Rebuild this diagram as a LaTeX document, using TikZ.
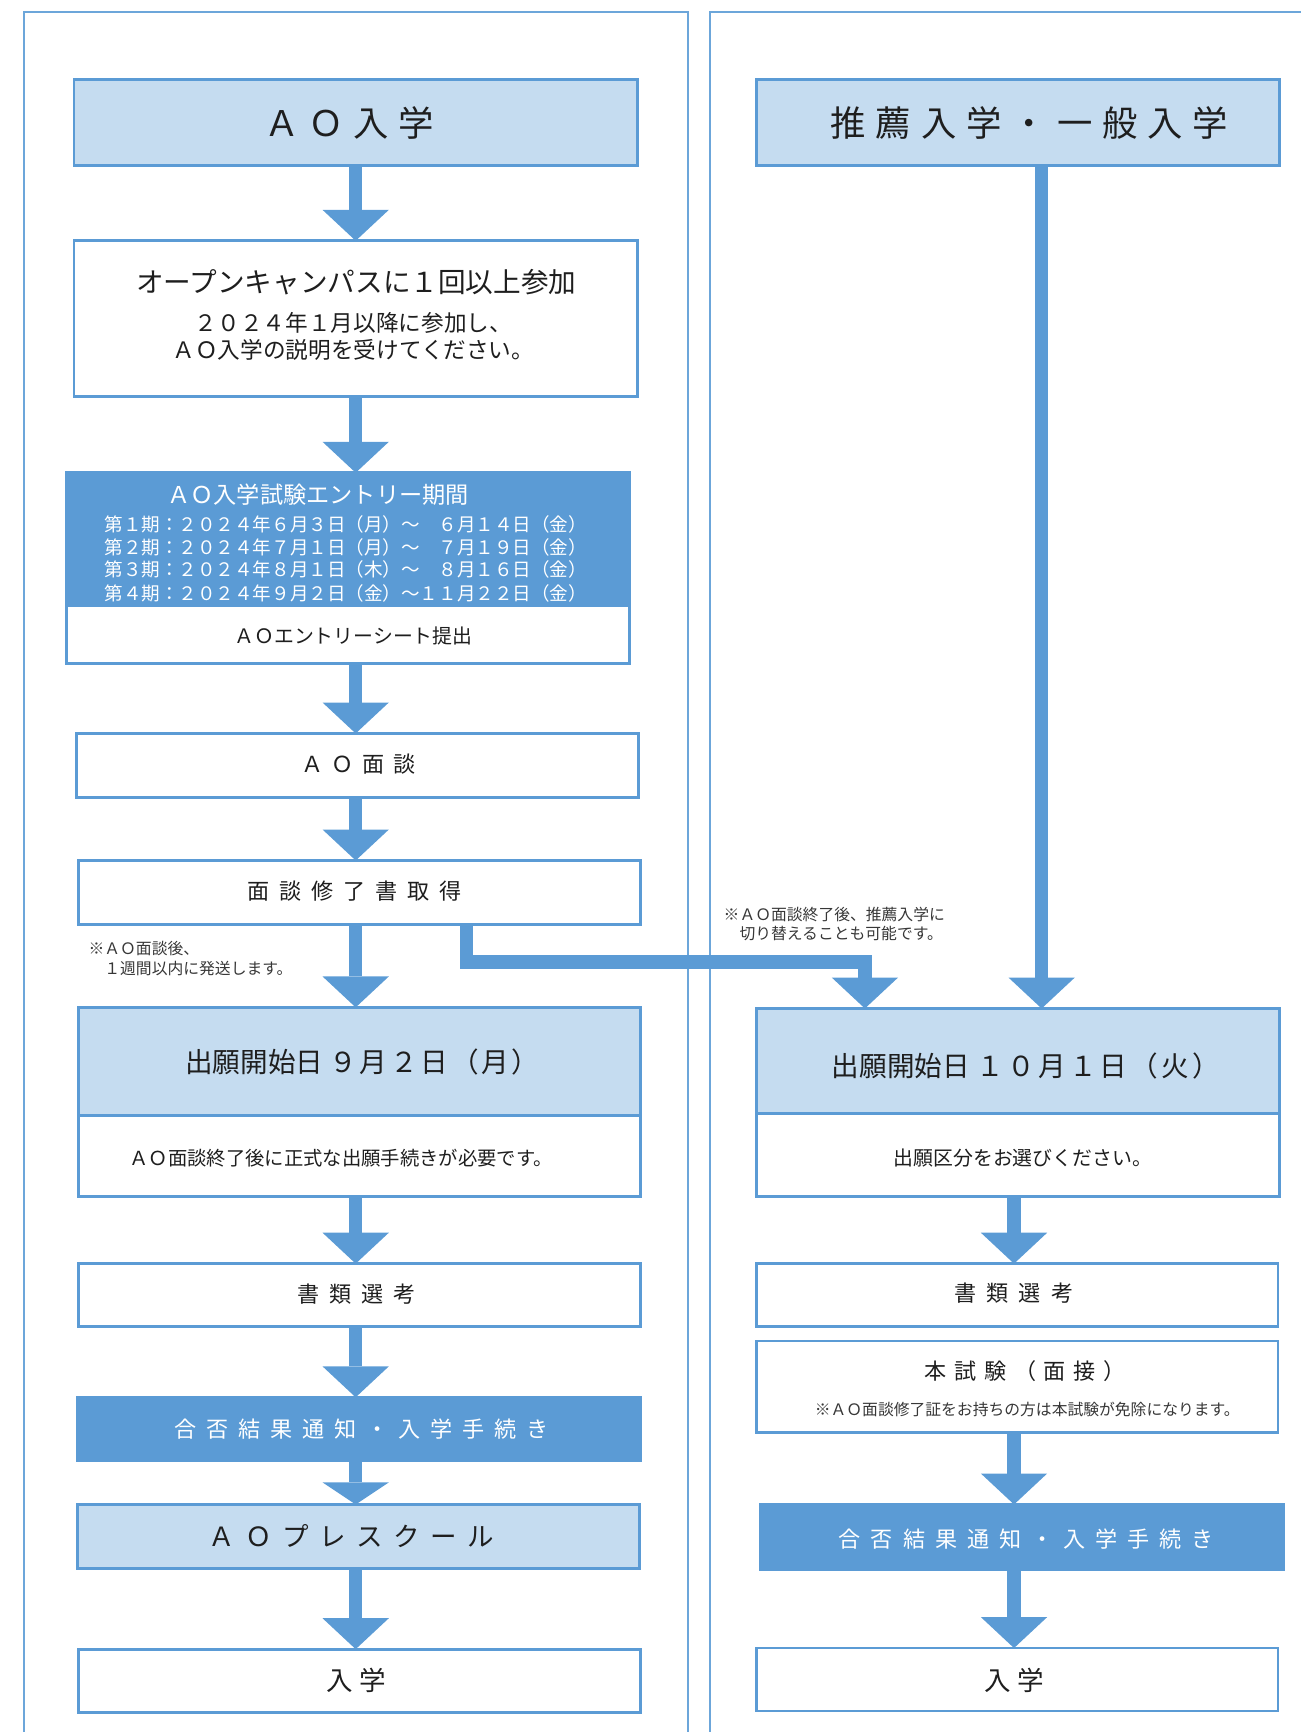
\documentclass[tikz,border=0pt]{standalone}
\usepackage{fontspec}
\setmainfont{Noto Sans CJK JP}
\usetikzlibrary{arrows.meta,calc}
\definecolor{boxc}{RGB}{91,155,213}
\definecolor{lightc}{RGB}{197,220,240}
\definecolor{panelc}{RGB}{108,166,218}
\definecolor{txt}{RGB}{30,30,30}
\definecolor{notec}{RGB}{55,55,55}
\makeatletter
\newcommand\lsp[2]{\@tfor\lsp@c:=#2\do{\lsp@c\hspace{#1}}\unskip}
\makeatother
\newcommand\jfs[1]{\fontsize{#1}{#1}\selectfont}
\begin{document}
\begin{tikzpicture}[x=1pt,y=-1pt,
  panel/.style={draw=panelc,line width=2pt},
  box/.style={draw=boxc,line width=2.5pt,fill=white,inner sep=0pt,outer sep=0pt},
  lightbox/.style={box,fill=lightc},
  darkbox/.style={box,fill=boxc},
  lbl/.style={anchor=base,inner sep=0pt,text=txt},
  wlbl/.style={lbl,text=white},
  note/.style={anchor=base west,inner sep=0pt,text=notec,font=\jfs{14.3}},
  bigarrow/.style={draw=boxc,line width=12pt,-{Triangle[width=60pt,length=28pt,line width=0pt]}},
  shortarrow/.style={draw=boxc,line width=12pt,-{Triangle[width=60pt,length=20pt,line width=0pt]}}
]
\useasboundingbox (0,0) rectangle (1177,1568);
% panels
\draw[panel] (22,1590) -- (22,11) -- (623,11) -- (623,1590);
\draw[panel] (643,1590) -- (643,11) -- (1200,11);

% ---------- left column boxes ----------
\node[lightbox,minimum width=510pt,minimum height=78pt] (ao) at (322,111) {};
\node[box,minimum width=510pt,minimum height=141pt] (oc) at (322,288.5) {};
\node[darkbox,minimum width=510pt,minimum height=120pt] (entryT) at (315,488) {};
\node[box,minimum width=510pt,minimum height=53pt] (entryB) at (315,574.5) {};
\node[box,minimum width=509pt,minimum height=58pt] (mendan) at (323.5,693) {};
\node[box,minimum width=509pt,minimum height=58pt] (get) at (325.5,808) {};
\node[lightbox,minimum width=509pt,minimum height=98pt] (dateT) at (325.5,961) {};
\node[box,minimum width=509pt,minimum height=73pt] (dateB) at (325.5,1046.5) {};
\node[box,minimum width=509pt,minimum height=57pt] (doc) at (325.5,1172.5) {};
\node[darkbox,minimum width=510pt,minimum height=57pt] (res) at (325,1293.5) {};
\node[lightbox,minimum width=509pt,minimum height=58pt] (pre) at (324.5,1391) {};
\node[box,minimum width=509pt,minimum height=57pt] (ent) at (325.5,1521.5) {};

% ---------- right column boxes ----------
\node[lightbox,minimum width=473pt,minimum height=78pt] (rhead) at (921.5,111) {};
\node[lightbox,minimum width=473pt,minimum height=95pt] (rdateT) at (921.5,960.5) {};
\node[box,minimum width=473pt,minimum height=75pt] (rdateB) at (921.5,1045.5) {};
\node[box,minimum width=472pt,minimum height=57pt] (rdoc) at (921,1172.5) {};
\node[box,minimum width=472pt,minimum height=83pt] (rexam) at (921,1255.5) {};
\node[darkbox,minimum width=474pt,minimum height=59pt] (rres) at (925,1391.5) {};
\node[box,minimum width=472pt,minimum height=57pt] (rent) at (921,1520.5) {};

% ---------- arrows ----------
\draw[bigarrow] (ao.south) -- (ao.south |- oc.north);
\draw[bigarrow] (oc.south) -- (oc.south |- entryT.north);
\draw[bigarrow] (entryB.south -| 322,0) -- (mendan.north -| 322,0);
\draw[bigarrow] (mendan.south -| 322,0) -- (get.north -| 322,0);
\draw[bigarrow] (get.south -| 322,0) -- (dateT.north -| 322,0);
\draw[bigarrow] ([xshift=96.5pt]get.south) -- ++(0,34) -| ([xshift=-138.5pt]rdateT.north);
\draw[bigarrow] (dateB.south -| 322,0) -- (doc.north -| 322,0);
\draw[bigarrow] (doc.south -| 322,0) -- (res.north -| 322,0);
\draw[shortarrow] (res.south -| 322,0) -- (pre.north -| 322,0);
\draw[bigarrow] (pre.south -| 322,0) -- (ent.north -| 322,0);

\draw[bigarrow] ([xshift=21.5pt]rhead.south) -- ([xshift=21.5pt]rdateT.north);
\draw[bigarrow] (rdateB.south -| 918,0) -- (rdoc.north -| 918,0);
\draw[bigarrow] (rexam.south -| 918,0) -- (rres.north -| 918,0);
\draw[bigarrow] (rres.south -| 918,0) -- (rent.north -| 918,0);

% ---------- left texts ----------
\node[lbl,font=\jfs{32}] (aoT) at (316,123.2) {\lsp{8.5pt}{ＡＯ入学}};
\node[lbl,font=\jfs{25}] (ocT1) at (322.5,264.5) {オープンキャンパスに１回以上参加};
\node[lbl,font=\jfs{20.5}] (ocT2) at (320,299.8) {２０２４年１月以降に参加し、};
\node[lbl,font=\jfs{20.5}] (ocT3) at (320,324.8) {ＡＯ入学の説明を受けてください。};
\node[wlbl,font=\jfs{21}] (enT0) at (288,456) {ＡＯ入学試験エントリー期間};
\node[wlbl,font=\jfs{16.8}] (enT1) at (313,481.3) {第１期：２０２４年６月３日（月）〜　６月１４日（金）};
\node[wlbl,font=\jfs{16.8}] (enT2) at (313,502.3) {第２期：２０２４年７月１日（月）〜　７月１９日（金）};
\node[wlbl,font=\jfs{16.8}] (enT3) at (313,522.3) {第３期：２０２４年８月１日（木）〜　８月１６日（金）};
\node[wlbl,font=\jfs{16.8}] (enT4) at (313,543.3) {第４期：２０２４年９月２日（金）〜１１月２２日（金）};
\node[lbl,font=\jfs{18}] (enB) at (320,582.8) {ＡＯエントリーシート提出};
\node[lbl,font=\jfs{20}] (mdT) at (324.5,699.6) {\lsp{8pt}{ＡＯ面談}};
\node[lbl,font=\jfs{20}] (getT) at (321,814.6) {\lsp{9pt}{面談修了書取得}};
\node[note] (n1a) at (80,864.3) {※ＡＯ面談後、};
\node[note] (n1b) at (80,882.3) {　１週間以内に発送します。};
\node[note] (n2a) at (655,833.4) {※ＡＯ面談終了後、推薦入学に};
\node[note] (n2b) at (655,850.4) {　切り替えることも可能です。};
\node[lbl,font=\jfs{25}] (dT) at (328,970.5) {出願開始日 \lsp{2.5pt}{９月２日（月）}};
\node[lbl,font=\jfs{17.5}] (dB) at (309,1054.7) {ＡＯ面談終了後に正式な出願手続きが必要です。};
\node[lbl,font=\jfs{20}] (docT) at (322.5,1179.6) {\lsp{9pt}{書類選考}};
\node[wlbl,font=\jfs{20}] (resT) at (327.5,1301.6) {\lsp{9pt}{合否結果通知・入学手続き}};
\node[lbl,font=\jfs{24}] (preT) at (318,1400) {\lsp{9.4pt}{ＡＯプレスクール}};
\node[lbl,font=\jfs{24}] (entT) at (322.5,1530) {\lsp{6pt}{入学}};

% ---------- right texts ----------
\node[lbl,font=\jfs{32}] (rhT) at (932,123.2) {\lsp{9pt}{推薦入学・一般入学}};
\node[lbl,font=\jfs{25}] (rdT) at (929,974.5) {出願開始日 \lsp{3pt}{１０月１日（火）}};
\node[lbl,font=\jfs{18}] (rdB) at (926,1054.8) {出願区分をお選びください。};
\node[lbl,font=\jfs{20}] (rdocT) at (918,1178.6) {\lsp{9pt}{書類選考}};
\node[lbl,font=\jfs{20}] (rexT) at (928,1248.6) {\lsp{7pt}{本試験（面接）}};
\node[lbl,font=\jfs{14.3},text=notec] (rexN) at (930,1281.4) {※ＡＯ面談修了証をお持ちの方は本試験が免除になります。};
\node[wlbl,font=\jfs{20}] (rresT) at (929,1400.6) {\lsp{9pt}{合否結果通知・入学手続き}};
\node[lbl,font=\jfs{24}] (rentT) at (918.5,1530) {\lsp{6pt}{入学}};
\end{tikzpicture}
\end{document}
